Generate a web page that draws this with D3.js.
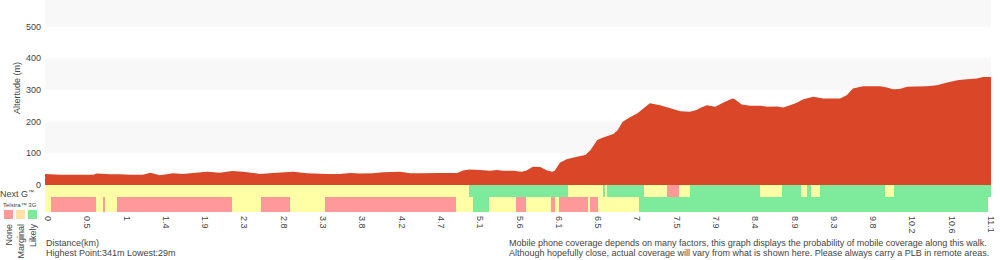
<!DOCTYPE html>
<html>
<head>
<meta charset="utf-8">
<script src="https://cdn.jsdelivr.net/npm/d3@7"></script>
<style>
  body { margin: 0; background: #fff; }
  text { font-family: "Liberation Sans", Arial, Helvetica, sans-serif; fill: #444; }
</style>
</head>
<body>
<svg width="1000" height="260"></svg>
<script>
// données
const yTicks = [0, 100, 200, 300, 400, 500];
const xTickLabels = ['0', '0.5', '1', '1.4', '1.9', '2.3', '2.8', '3.3', '3.8', '4.2', '4.7', '5.1',
  '5.6', '6.1', '6.5', '7', '7.5', '7.9', '8.4', '8.9', '9.3', '9.8', '10.2', '10.6', '11.1'];

// profil : distance (km) / altitude (m)
const profileKm = [0, 0.18, 0.57, 0.61, 0.77, 0.88, 1.00, 1.15, 1.24, 1.35, 1.51, 1.62, 1.74, 1.91,
  2.06, 2.20, 2.33, 2.45, 2.53, 2.68, 2.92, 3.08, 3.32, 3.47, 3.59, 3.71, 3.86, 3.98, 4.18, 4.30,
  4.41, 4.65, 4.85, 4.92, 5.00, 5.12, 5.24, 5.32, 5.39, 5.51, 5.61, 5.67, 5.74, 5.83, 5.91, 5.97,
  6.00, 6.06, 6.14, 6.26, 6.36, 6.42, 6.50, 6.57, 6.69, 6.74, 6.80, 6.89, 6.97, 7.09, 7.12, 7.24,
  7.36, 7.48, 7.59, 7.67, 7.71, 7.79, 7.89, 7.98, 8.09, 8.12, 8.20, 8.30, 8.42, 8.50, 8.62, 8.69,
  8.77, 8.85, 8.92, 9.04, 9.16, 9.36, 9.44, 9.51, 9.63, 9.83, 9.91, 9.98, 10.06, 10.15, 10.38,
  10.50, 10.62, 10.74, 10.85, 10.97, 11.04, 11.135];
const profileM = [35, 32, 32, 36, 34, 34, 32, 32, 39, 31, 37, 35, 38, 42,
  39, 44, 42, 38, 35, 38, 42, 37, 35, 35, 38, 36, 37, 40, 42, 37,
  37, 38, 38, 46, 49, 47, 45, 47, 45, 45, 42, 46, 58, 57, 46, 42,
  45, 70, 81, 89, 95, 110, 142, 150, 161, 173, 200, 215, 226, 252, 258, 252,
  242, 233, 231, 237, 243, 252, 247, 260, 273, 271, 254, 250, 250, 247, 248, 245,
  252, 260, 270, 279, 273, 273, 284, 305, 312, 312, 308, 302, 303, 310, 312,
  315, 324, 331, 334, 336, 341, 341];

// couverture : [début km, fin km, niveau]
const nextG = [[0, 4.99, 'm'], [4.99, 6.16, 'l'], [6.16, 6.57, 'm'], [6.57, 6.59, 'l'], [6.59, 6.62, 'm'],
  [6.62, 7.05, 'l'], [7.05, 7.32, 'm'], [7.32, 7.46, 'n'], [7.46, 7.59, 'm'], [7.59, 8.42, 'l'],
  [8.42, 8.68, 'm'], [8.68, 8.90, 'l'], [8.90, 8.97, 'm'], [8.97, 9.02, 'l'], [9.02, 9.12, 'm'],
  [9.12, 9.89, 'l'], [9.89, 9.99, 'm'], [9.99, 11.135, 'l']];
const telstra3G = [[0, 0.07, 'm'], [0.07, 0.60, 'n'], [0.60, 0.68, 'm'], [0.68, 0.71, 'n'], [0.71, 0.85, 'm'],
  [0.85, 2.20, 'n'], [2.20, 2.54, 'm'], [2.54, 2.88, 'n'], [2.88, 3.30, 'm'], [3.30, 4.84, 'n'],
  [4.84, 5.04, 'm'], [5.04, 5.23, 'l'], [5.23, 5.54, 'm'], [5.54, 5.66, 'n'], [5.66, 5.96, 'm'],
  [5.96, 6.00, 'n'], [6.00, 6.05, 'm'], [6.05, 6.39, 'n'], [6.39, 6.42, 'm'], [6.42, 6.51, 'n'],
  [6.51, 6.99, 'm'], [6.99, 11.10, 'l']];

const legendItems = ['None', 'Marginal', 'Likely'];

const svg = d3.select('svg');
const left = 45, right = 991, bottom = 185;
const maxKm = 11.135;
const tickStep = 0.4625;

const areaColor = '#d94628';
const covColor = { n: '#ff9999', m: '#ffffa6', l: '#7deb9b' };
const legendColor = ['#ff9999', '#fde3a7', '#7deb9b'];

const x = d3.scaleLinear().domain([0, maxKm]).range([left, right]);
const y = d3.scaleLinear().domain([0, 600]).range([bottom, -5]);

//-----------------------bandes de fond-----------------------//
svg.append('g').selectAll('rect')
  .data([100, 300, 500])
  .join('rect')
  .attr('x', left)
  .attr('width', right - left)
  .attr('y', d => y(d + 100))
  .attr('height', d => y(d) - y(d + 100))
  .attr('fill', '#f8f8f8');

//-----------------------profil-----------------------//
const profile = profileKm.map((d, i) => ({ km: d, m: profileM[i] }));
const area = d3.area()
  .x(d => x(d.km))
  .y0(y(0))
  .y1(d => y(d.m));

svg.append('path')
  .datum(profile)
  .attr('d', area)
  .attr('fill', areaColor);

//-----------------------axe Y-----------------------//
svg.append('g').selectAll('text')
  .data(yTicks)
  .join('text')
  .attr('x', 41)
  .attr('y', d => y(d))
  .attr('dy', '0.35em')
  .attr('text-anchor', 'end')
  .style('font-size', '9px')
  .text(d => d);

svg.append('text')
  .attr('transform', `translate(20, 88) rotate(-90)`)
  .attr('text-anchor', 'middle')
  .style('font-size', '9px')
  .text('Altertude (m)');

//-----------------------couverture-----------------------//
function drawRow(data, y0, h) {
  svg.append('g').selectAll('rect')
    .data(data)
    .join('rect')
    .attr('x', d => x(d[0]))
    .attr('width', d => x(d[1]) - x(d[0]))
    .attr('y', y0)
    .attr('height', h)
    .attr('fill', d => covColor[d[2]])
    .attr('shape-rendering', 'crispEdges');
}
drawRow(nextG, 185, 12);
drawRow(telstra3G, 197, 15);

// "Next G" + petit TM en exposant
const ng = svg.append('text')
  .attr('x', 0).attr('y', 197)
  .style('font-size', '9px');
ng.append('tspan').text('Next G');
ng.append('tspan').attr('dy', -3).style('font-size', '6px').text('™');

svg.append('text')
  .attr('x', 3).attr('y', 207)
  .style('font-size', '6px')
  .text('Telstra™ 3G');

//-----------------------légende-----------------------//
const legend = svg.append('g').selectAll('g')
  .data(legendItems)
  .join('g')
  .attr('transform', (d, i) => `translate(${4 + i * 12}, 210)`);

legend.append('rect')
  .attr('width', 9).attr('height', 9)
  .attr('fill', (d, i) => legendColor[i]);

legend.append('text')
  .attr('transform', 'translate(8, 14) rotate(-90)')
  .attr('text-anchor', 'end')
  .style('font-size', '9px')
  .text(d => d);

//-----------------------axe X-----------------------//
svg.append('g').selectAll('text')
  .data(xTickLabels)
  .join('text')
  .attr('transform', (d, i) => `translate(${x(i * tickStep)}, 216) rotate(90)`)
  .attr('text-anchor', 'start')
  .style('font-size', '9px')
  .text(d => d);

//-----------------------textes-----------------------//
svg.append('text')
  .attr('x', 46).attr('y', 246)
  .style('font-size', '9px')
  .text('Distance(km)');
svg.append('text')
  .attr('x', 46).attr('y', 256)
  .style('font-size', '9px')
  .text('Highest Point:341m Lowest:29m');

svg.append('text')
  .attr('x', 509).attr('y', 246)
  .style('font-size', '9px')
  .text('Mobile phone coverage depends on many factors, this graph displays the probability of mobile coverage along this walk.');
svg.append('text')
  .attr('x', 509).attr('y', 256)
  .style('font-size', '9px')
  .text('Although hopefully close, actual coverage will vary from what is shown here. Please always carry a PLB in remote areas.');
</script>
</body>
</html>
